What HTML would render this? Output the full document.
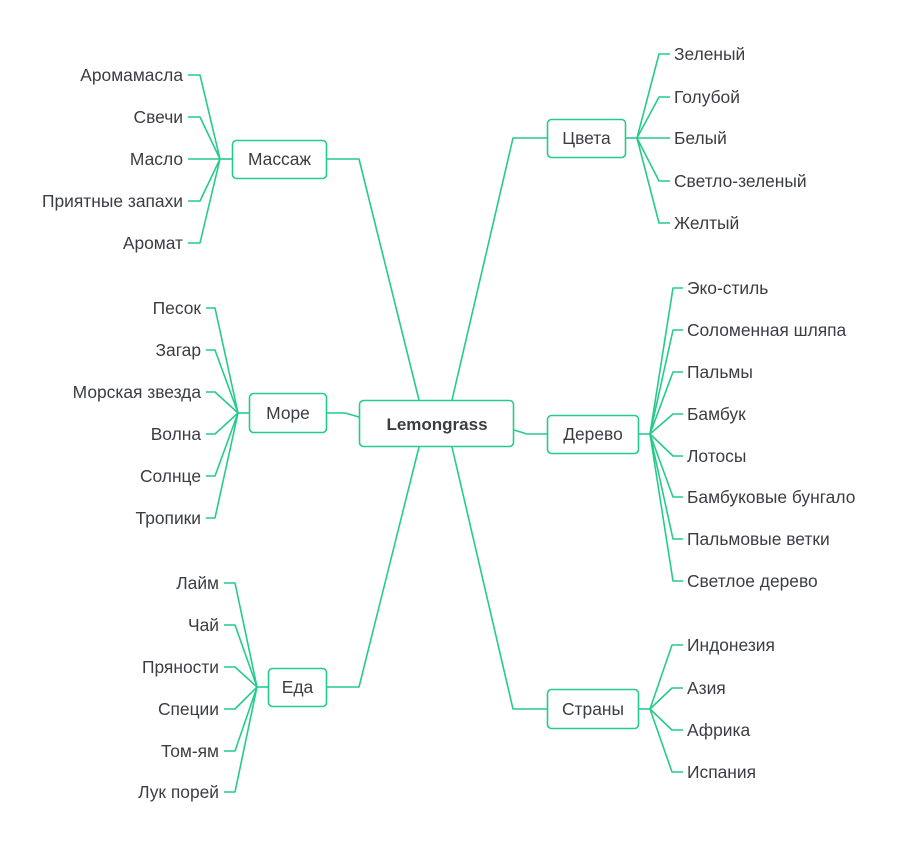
<!DOCTYPE html>
<html><head><meta charset="utf-8"><style>
html,body{margin:0;padding:0;background:#fff;}
svg{display:block;}
text{font-family:"Liberation Sans","DejaVu Sans",sans-serif;font-size:17.4px;fill:#3a3d42;}
text.b{font-size:17px;font-weight:bold;}
</style></head><body>
<svg width="900" height="847" viewBox="0 0 900 847" xmlns="http://www.w3.org/2000/svg">
<g fill="none" stroke="#26cb8b" stroke-width="1.6" stroke-linejoin="round">
<!-- main connectors -->
<polyline points="327,159 359,159 419,400"/>
<polyline points="547,138 513,138 452,400"/>
<polyline points="327,413 345,413 359,417"/>
<polyline points="514,430 527,434 547,434"/>
<polyline points="327,687 359,687 419,447"/>
<polyline points="547,709 513,709 452,447"/>
<!-- Massage leaves -->
<line x1="220" y1="159" x2="232" y2="159"/>
<polyline points="188,75 200,75 220,159"/>
<polyline points="188,117 200,117 220,159"/>
<polyline points="188,159 220,159"/>
<polyline points="188,201 200,201 220,159"/>
<polyline points="188,243 200,243 220,159"/>
<!-- More leaves -->
<line x1="238" y1="413" x2="249" y2="413"/>
<polyline points="206,308 215,308 238,413"/>
<polyline points="206,350 215,350 238,413"/>
<polyline points="206,392 215,392 238,413"/>
<polyline points="206,434 215,434 238,413"/>
<polyline points="206,476 215,476 238,413"/>
<polyline points="206,518 215,518 238,413"/>
<!-- Eda leaves -->
<line x1="257" y1="687" x2="268" y2="687"/>
<polyline points="224,583 235,583 257,687"/>
<polyline points="224,625 235,625 257,687"/>
<polyline points="224,667 235,667 257,687"/>
<polyline points="224,709 235,709 257,687"/>
<polyline points="224,751 235,751 257,687"/>
<polyline points="224,792 235,792 257,687"/>
<!-- Tsveta leaves -->
<line x1="626" y1="138" x2="637" y2="138"/>
<polyline points="637,138 659,54 670,54"/>
<polyline points="637,138 659,97 670,97"/>
<polyline points="637,138 670,138"/>
<polyline points="637,138 659,181 670,181"/>
<polyline points="637,138 659,223 670,223"/>
<!-- Derevo leaves -->
<line x1="639" y1="434" x2="650" y2="434"/>
<polyline points="650,434 673,288 683,288"/>
<polyline points="650,434 673,330 683,330"/>
<polyline points="650,434 673,372 683,372"/>
<polyline points="650,434 673,414 683,414"/>
<polyline points="650,434 673,456 683,456"/>
<polyline points="650,434 673,497 683,497"/>
<polyline points="650,434 673,539 683,539"/>
<polyline points="650,434 673,581 683,581"/>
<!-- Strany leaves -->
<line x1="638" y1="709" x2="650" y2="709"/>
<polyline points="650,709 672,645 683,645"/>
<polyline points="650,709 672,688 683,688"/>
<polyline points="650,709 672,730 683,730"/>
<polyline points="650,709 672,772 683,772"/>
</g>
<!-- boxes -->
<g fill="#fff" stroke="#26cb8b" stroke-width="1.6">
<rect x="359.5" y="400.5" width="154" height="46" rx="4"/>
<rect x="232.5" y="140.5" width="94" height="38" rx="4"/>
<rect x="249.5" y="393.5" width="77" height="39" rx="4"/>
<rect x="268.5" y="668.5" width="58" height="38" rx="4"/>
<rect x="547.5" y="119.5" width="78" height="38" rx="4"/>
<rect x="547.5" y="415.5" width="91" height="38" rx="4"/>
<rect x="547.5" y="689.5" width="91" height="39" rx="4"/>
</g>
<g text-anchor="middle">
<text class="b" x="437" y="430">Lemongrass</text>
<text x="279.5" y="165">Массаж</text>
<text x="288" y="419">Море</text>
<text x="297.5" y="693">Еда</text>
<text x="586.5" y="144">Цвета</text>
<text x="593" y="440">Дерево</text>
<text x="593" y="715">Страны</text>
</g>
<g text-anchor="end">
<text x="183" y="81">Аромамасла</text>
<text x="183" y="123">Свечи</text>
<text x="183" y="165">Масло</text>
<text x="183" y="207">Приятные запахи</text>
<text x="183" y="249">Аромат</text>
<text x="201" y="314">Песок</text>
<text x="201" y="356">Загар</text>
<text x="201" y="398">Морская звезда</text>
<text x="201" y="440">Волна</text>
<text x="201" y="482">Солнце</text>
<text x="201" y="524">Тропики</text>
<text x="219" y="589">Лайм</text>
<text x="219" y="631">Чай</text>
<text x="219" y="673">Пряности</text>
<text x="219" y="715">Специи</text>
<text x="219" y="757">Том-ям</text>
<text x="219" y="798">Лук порей</text>
</g>
<g>
<text x="674" y="60">Зеленый</text>
<text x="674" y="103">Голубой</text>
<text x="674" y="144">Белый</text>
<text x="674" y="187">Светло-зеленый</text>
<text x="674" y="229">Желтый</text>
<text x="687" y="294">Эко-стиль</text>
<text x="687" y="336">Соломенная шляпа</text>
<text x="687" y="378">Пальмы</text>
<text x="687" y="420">Бамбук</text>
<text x="687" y="462">Лотосы</text>
<text x="687" y="503">Бамбуковые бунгало</text>
<text x="687" y="545">Пальмовые ветки</text>
<text x="687" y="587">Светлое дерево</text>
<text x="687" y="651">Индонезия</text>
<text x="687" y="694">Азия</text>
<text x="687" y="736">Африка</text>
<text x="687" y="778">Испания</text>
</g>
</svg>
</body></html>
